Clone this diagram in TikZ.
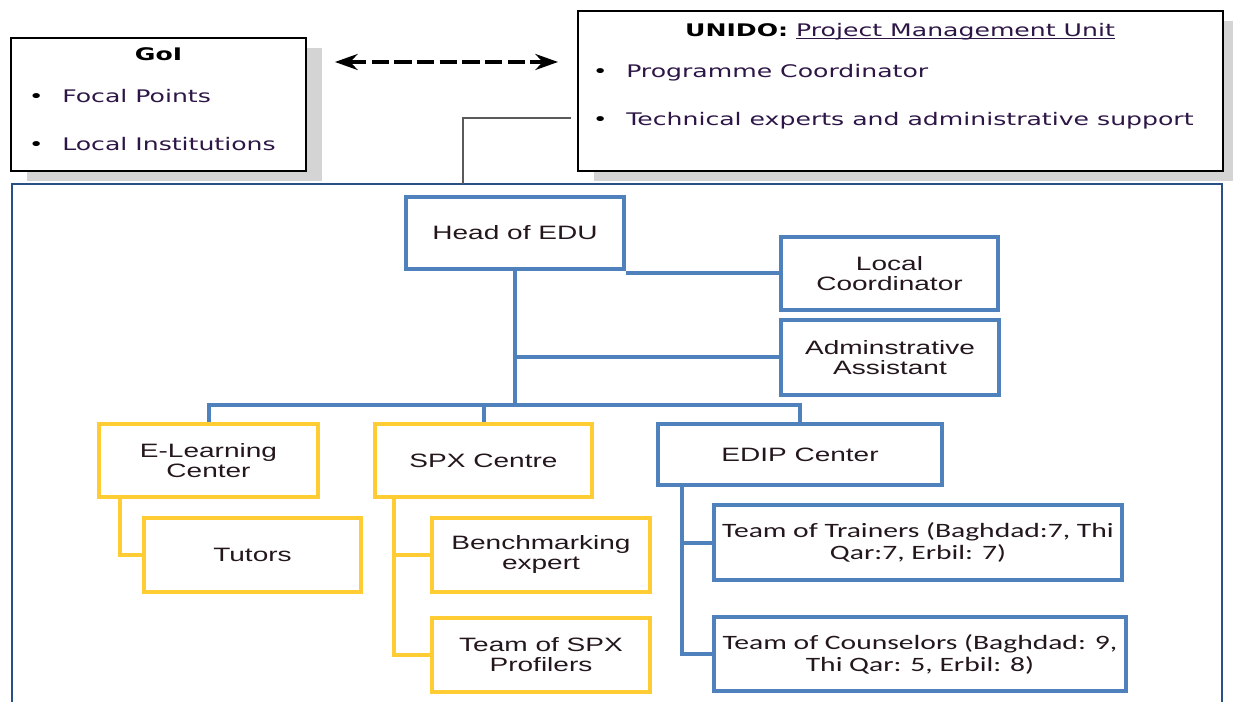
\documentclass[tikz,border=0pt]{standalone}
\usepackage{fontspec}
\usetikzlibrary{calc,arrows.meta}

\newfontfamily\arialf[FakeStretch=1.45]{Liberation Sans}
\newfontfamily\verdf[FakeStretch=1.45]{DejaVu Sans}
\newfontfamily\calif[FakeStretch=1.45]{Carlito}

\definecolor{edublue}{RGB}{79,129,189}
\definecolor{eduyellow}{RGB}{255,204,51}
\definecolor{frameblue}{RGB}{40,80,135}
\definecolor{shadowgrey}{RGB}{212,212,212}
\definecolor{linkgrey}{RGB}{90,90,90}
\definecolor{txtdark}{RGB}{35,22,28}
\definecolor{itemtxt}{RGB}{45,22,70}

\newcommand{\ulined}[1]{\setbox0\hbox{#1}\rlap{\rule[-1.8pt]{\wd0}{0.9pt}}\box0}

\begin{document}
\begin{tikzpicture}[x=0.75pt,y=-0.75pt,
  shadowed/.style={preaction={fill=shadowgrey,draw=none,transform canvas={xshift=12pt,yshift=-7.5pt}}},
  infobox/.style={draw=black,line width=1.5pt,fill=white,shadowed,inner sep=0pt},
  listitem/.style={anchor=base west,inner sep=0pt,text=itemtxt,font=\verdf\fontsize{13}{15}\selectfont},
  boxtitle/.style={anchor=base,inner sep=0pt,text=black,font=\verdf\fontsize{13}{15}\selectfont},
  orgbox/.style={line width=3pt,fill=white,inner sep=1pt,align=center,text=txtdark,font=\arialf\fontsize{14.5}{15}\selectfont},
  bluebox/.style={orgbox,draw=edublue},
  yellowbox/.style={orgbox,draw=eduyellow},
  teambox/.style={bluebox,font=\calif\fontsize{15.3}{16.5}\selectfont},
  bluelink/.style={draw=edublue,line width=3pt},
  yellowlink/.style={draw=eduyellow,line width=3pt},
  greylink/.style={draw=linkgrey,line width=1.2pt},
  dasharrow/.style={line width=2.4pt,dash pattern=on 13pt off 4pt,{Stealth[length=17pt,width=12pt]}-{Stealth[length=17pt,width=12pt]}}]

\useasboundingbox (0,0) rectangle (1233,702);

\draw[frameblue,line width=1.6pt] (12,706) -- (12,184) -- (1222,184) -- (1222,706);
\coordinate (ftop) at (463,184);

\node[infobox,minimum width=221.25pt,minimum height=99.75pt] (goi) at (158.5,104.5) {};
\node[infobox,minimum width=483.75pt,minimum height=120pt] (unido) at (900.5,91) {};

\node[boxtitle] (goi-t) at (158.5,61) {\bfseries GoI};
\node[listitem] (goi-1) at (62,103) {\llap{\color{black}•\hspace{14pt}}Focal Points};
\node[listitem] (goi-2) at (62,151) {\llap{\color{black}•\hspace{14pt}}Local Institutions};

\node[boxtitle] (unido-t) at (900,37) {\textbf{UNIDO:} {\color{itemtxt}\ulined{Project Management Unit}}};
\node[listitem] (unido-1) at (626,78) {\llap{\color{black}•\hspace{14pt}}Programme Coordinator};
\node[listitem] (unido-2) at (626,126) {\llap{\color{black}•\hspace{14pt}}Technical experts and administrative support};

\draw[dasharrow] ($(goi.north east)+(28,25)$) -- ($(unido.north west)+(-19,52)$);
\draw[greylink] (ftop) |- ($(unido.west)+(-6,27)$);

\node[bluebox,minimum width=163.5pt,minimum height=54pt] (head) at (515,233) {Head of EDU};
\node[bluebox,minimum width=162.75pt,minimum height=54.75pt] (loc) at (889.5,273.5) {Local\\Coordinator};
\node[bluebox,minimum width=163.5pt,minimum height=56.25pt] (adm) at (890,357.5) {Adminstrative\\Assistant};

\node[yellowbox,minimum width=164.25pt,minimum height=54.75pt] (elc) at (208.5,460.5) {E-Learning\\Center};
\node[yellowbox,minimum width=162.75pt,minimum height=55.5pt] (tut) at (252.5,555) {Tutors};
\node[yellowbox,minimum width=162.75pt,minimum height=54.75pt] (spx) at (483.5,460.5) {SPX Centre};
\node[yellowbox,minimum width=163.5pt,minimum height=55.5pt] (bench) at (541,555) {Benchmarking\\expert};
\node[yellowbox,minimum width=163.5pt,minimum height=55.5pt] (prof) at (541,655) {Team of SPX\\Profilers};

\node[bluebox,minimum width=213pt,minimum height=45.75pt] (edip) at (800,454.5) {EDIP Center};
\node[teambox,minimum width=306pt,minimum height=56.25pt] (trn) at (918,542.5) {Team of Trainers (Baghdad:7, Thi\\Qar:7, Erbil: 7)};
\node[teambox,minimum width=309pt,minimum height=55.5pt] (cns) at (920,654) {Team of Counselors (Baghdad: 9,\\Thi Qar: 5, Erbil: 8)};

\coordinate (bus) at (515,405);
\draw[bluelink] (head.south) -- (bus);
\draw[bluelink] (elc.north) |- (bus) -| (edip.north);
\draw[bluelink] (spx.north) -- (spx.north |- bus);
\draw[bluelink] (head.east |- loc.west) -- (loc.west);
\draw[bluelink] (head.south |- adm.west) -- (adm.west);

\draw[yellowlink] ($(elc.south west)+(23,0)$) |- (tut.west);
\draw[yellowlink] ($(spx.south west)+(21,0)$) |- (bench.west);
\draw[yellowlink] ($(spx.south west)+(21,0)$) |- (prof.west);
\draw[bluelink] ($(edip.south west)+(26,0)$) |- (trn.west);
\draw[bluelink] ($(edip.south west)+(26,0)$) |- (cns.west);
\end{tikzpicture}
\end{document}
